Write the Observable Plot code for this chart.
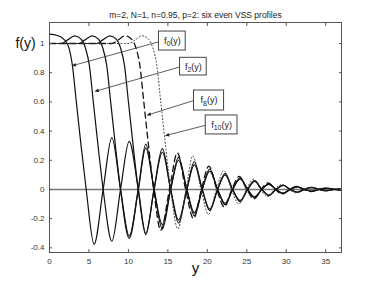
<!DOCTYPE html>
<html><head><meta charset="utf-8">
<script src="https://cdn.jsdelivr.net/npm/d3@7"></script>
<script src="https://cdn.jsdelivr.net/npm/@observablehq/plot@0.6"></script>
<style>body{margin:0;background:#fff}</style>
</head><body><div id="chart"></div>
<script>
const titleText = "m=2, N=1, n=0.95, p=2: six even VSS profiles";
const xTicks = [0, 5, 10, 15, 20, 25, 30, 35];
const yTicks = [-0.4, -0.2, 0, 0.2, 0.4, 0.6, 0.8, 1];

// profiles as [y, f(y)] pairs
const f0Points = [[0,1.065],[1,1.055],[1.8,1.03],[2.4,0.98],[2.9,0.85],[3.4,0.6],[4.0,0.3],[4.65,0],[5.65,-0.375],[6.8,0],[7.9,0.355],[9.0,0],[10.1,-0.32],[11.25,0],[12.2,0.285],[13.25,0],[14.3,-0.24],[15.35,0],[16.35,0.2],[17.4,0],[18.35,-0.16],[19.35,0],[20.3,0.125],[21.3,0],[22.25,-0.095],[23.2,0],[24.15,0.07],[25.1,0],[26.0,-0.05],[26.9,0],[27.8,0.035],[28.7,0],[29.6,-0.025],[30.5,0],[31.4,0.017],[32.3,0],[33.25,-0.012],[34.2,0],[35.15,0.008],[36.1,0],[37,-0.005]];
const f2Points = [[0,1],[1.5,1],[2.3,1.025],[3.2,1.053],[4.0,1.03],[4.55,0.97],[5.05,0.85],[5.55,0.6],[6.15,0.3],[6.8,0],[7.9,-0.355],[9.0,0],[10.1,0.33],[11.25,0],[12.2,-0.3],[13.25,0],[14.3,0.255],[15.35,0],[16.35,-0.21],[17.4,0],[18.35,0.17],[19.35,0],[20.3,-0.135],[21.3,0],[22.25,0.1],[23.2,0],[24.15,-0.075],[25.1,0],[26.0,0.055],[26.9,0],[27.8,-0.038],[28.7,0],[29.6,0.027],[30.5,0],[31.4,-0.018],[32.3,0],[33.25,0.012],[34.2,0],[35.15,-0.008],[36.1,0],[37,0.005]];
const f4Points = [[0,1],[3.7,1],[4.5,1.025],[5.4,1.053],[6.2,1.03],[6.75,0.97],[7.25,0.85],[7.75,0.6],[8.35,0.3],[9.0,0],[10.1,-0.335],[11.25,0],[12.2,0.31],[13.25,0],[14.3,-0.27],[15.35,0],[16.35,0.22],[17.4,0],[18.35,-0.18],[19.35,0],[20.3,0.14],[21.3,0],[22.25,-0.105],[23.2,0],[24.15,0.08],[25.1,0],[26.0,-0.058],[26.9,0],[27.8,0.04],[28.7,0],[29.6,-0.028],[30.5,0],[31.4,0.019],[32.3,0],[33.25,-0.013],[34.2,0],[35.15,0.009],[36.1,0],[37,-0.006]];
const f6Points = [[0,1],[5.95,1],[6.75,1.025],[7.65,1.053],[8.45,1.03],[9.0,0.97],[9.5,0.85],[10.0,0.6],[10.6,0.3],[11.25,0],[12.2,-0.31],[13.25,0],[14.3,0.28],[15.35,0],[16.35,-0.23],[17.4,0],[18.35,0.19],[19.35,0],[20.3,-0.145],[21.3,0],[22.25,0.11],[23.2,0],[24.15,-0.083],[25.1,0],[26.0,0.06],[26.9,0],[27.8,-0.042],[28.7,0],[29.6,0.03],[30.5,0],[31.4,-0.02],[32.3,0],[33.25,0.014],[34.2,0],[35.15,-0.009],[36.1,0],[37,0.006]];
const f8Points = [[0,1],[7.9,1],[8.7,1.025],[9.6,1.053],[10.4,1.03],[10.95,0.97],[11.45,0.85],[11.95,0.6],[12.55,0.3],[13.2,0],[14.1,-0.28],[15.2,0],[16.2,0.25],[17.25,0],[18.25,-0.2],[19.25,0],[20.2,0.16],[21.2,0],[22.15,-0.12],[23.1,0],[24.05,0.09],[25.0,0],[25.9,-0.065],[26.8,0],[27.7,0.045],[28.6,0],[29.5,-0.031],[30.4,0],[31.3,0.021],[32.2,0],[33.2,-0.014],[34.1,0],[35.1,0.009],[36.05,0],[37,-0.005]];
const f10Points = [[0,1],[10.05,1],[10.85,1.025],[11.75,1.053],[12.55,1.03],[13.1,0.97],[13.6,0.85],[14.1,0.6],[14.7,0.3],[15.35,0],[16.25,-0.27],[17.3,0],[18.15,0.23],[19.2,0],[20.15,-0.17],[21.15,0],[22.1,0.13],[23.05,0],[24.0,-0.1],[24.95,0],[25.85,0.07],[26.75,0],[27.65,-0.05],[28.55,0],[29.45,0.034],[30.35,0],[31.25,-0.023],[32.15,0],[33.15,0.015],[34.05,0],[35.05,-0.01],[36.0,0],[37,0.006]];

// annotation labels: "f", subscript, "(y)"
const labelSub = ["0", "2", "8", "10"];
const boxX1 = [13.87, 16.54, 18.31, 19.8];
const boxX2 = [17.26, 19.92, 22.12, 23.82];
const boxY1 = [0.952, 0.781, 0.541, 0.377];
const boxY2 = [1.082, 0.902, 0.678, 0.507];
const arrowFromX = [13.87, 16.54, 18.31, 19.8];
const arrowFromY = [1.012, 0.84, 0.61, 0.44];
const arrowToX = [2.96, 5.84, 12.44, 14.77];
const arrowToY = [0.849, 0.673, 0.51, 0.37];

const toRows = (name, pts) => pts.map(([x, f]) => ({name, x, f}));
const solidRows = [...toRows("f0", f0Points), ...toRows("f2", f2Points), ...toRows("f4", f4Points), ...toRows("f6", f6Points)];
const dashedRows = toRows("f8", f8Points);
const dottedRows = toRows("f10", f10Points);
const labels = labelSub.map((s, i) => ({t: "f" + s + "(y)", s, x1: boxX1[i], x2: boxX2[i], y1: boxY1[i], y2: boxY2[i],
  ax1: arrowFromX[i], ay1: arrowFromY[i], ax2: arrowToX[i], ay2: arrowToY[i]}));

const font = "'Liberation Sans', Arial, sans-serif";
const chart = Plot.plot({
  width: 377, height: 283,
  marginLeft: 49, marginRight: 36, marginTop: 22, marginBottom: 31,
  style: {fontFamily: font, fontSize: "8px", color: "#222", background: "#fff"},
  x: {domain: [0, 37]},
  y: {domain: [-0.432, 1.144]},
  marks: [
    Plot.ruleY([0], {stroke: "#777", strokeWidth: 1.6}),
    Plot.line(solidRows, {x: "x", y: "f", z: "name", curve: "monotone-x", stroke: "#111", strokeWidth: 1.2}),
    Plot.line(dashedRows, {x: "x", y: "f", curve: "monotone-x", stroke: "#111", strokeWidth: 1.3, strokeDasharray: "6,4"}),
    Plot.line(dottedRows, {x: "x", y: "f", curve: "monotone-x", stroke: "#333", strokeWidth: 1, strokeDasharray: "1,2.4"}),
    Plot.link(labels, {x1: "ax1", y1: "ay1", x2: "ax2", y2: "ay2", stroke: "#333", strokeWidth: 0.8, markerEnd: "arrow"}),
    Plot.rect(labels, {x1: "x1", x2: "x2", y1: "y1", y2: "y2", fill: "white", stroke: "#444", strokeWidth: 1}),
    Plot.text(labels, {x: d => (d.x1 + d.x2) / 2, y: d => (d.y1 + d.y2) / 2, text: "t", fontSize: 9, fill: "#222", className: "flabel"}),
    Plot.frame({stroke: "#555", strokeWidth: 1}),
    Plot.axisX(xTicks, {anchor: "bottom", tickSize: -3, tickPadding: 9, tickFormat: d => String(d), stroke: "#555", fill: "#333", fontSize: 8}),
    Plot.axisX(xTicks, {anchor: "top", tickSize: -3, tickFormat: () => "", stroke: "#555"}),
    Plot.axisY(yTicks, {anchor: "left", tickSize: -3, tickPadding: 8, tickFormat: d => String(d), stroke: "#555", fill: "#333", fontSize: 8}),
    Plot.axisY(yTicks, {anchor: "right", tickSize: -3, tickFormat: () => "", stroke: "#555"}),
    Plot.text([titleText], {frameAnchor: "top", dy: -11, fontSize: 8.5, fill: "#222"}),
    Plot.text(["f(y)"], {x: 0, y: 1, dx: -24, textAnchor: "middle", fontSize: 14, fill: "#111"}),
    Plot.text(["y"], {frameAnchor: "bottom", dy: 20, fontSize: 15, fill: "#111"})
  ]
});
// subscripts in the label boxes
d3.select(chart).selectAll("g.flabel text").each(function(_, i) {
  const t = d3.select(this);
  const sub = labelSub[i];
  t.text("");
  t.append("tspan").text("f");
  t.append("tspan").attr("dy", 2.5).attr("font-size", 7).text(sub);
  t.append("tspan").attr("dy", -2.5).text("(y)");
});
// make arrow heads solid triangles
d3.select(chart).selectAll("marker").each(function() {
  const m = d3.select(this);
  m.attr("markerUnits", "userSpaceOnUse").attr("viewBox", "-5 -5 10 10")
   .attr("markerWidth", 7).attr("markerHeight", 7).attr("fill", "#222").attr("stroke", "none");
  m.selectAll("path").attr("d", "M-4.5,-2.6L1.5,0L-4.5,2.6Z").attr("fill", "#222").attr("stroke", "none");
});
document.getElementById("chart").appendChild(chart);
</script>
</body></html>
